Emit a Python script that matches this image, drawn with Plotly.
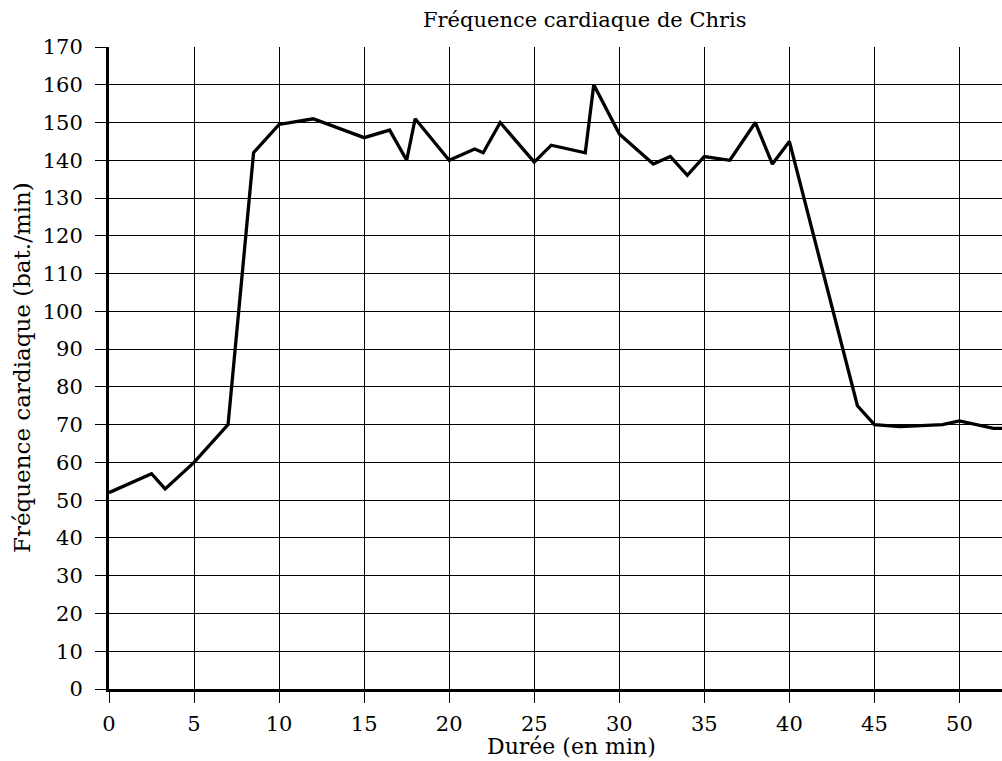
import plotly.graph_objects as go

minutes = [0, 2.5, 3.3, 5, 7, 8.5, 10, 12, 15, 16.5, 17.5, 18, 20, 21.5, 22, 23,
           25, 26, 28, 28.5, 30, 32, 33, 34, 35, 36.5, 38, 39, 40, 44, 45, 46.5,
           49, 50, 52, 52.5]
bpm = [52, 57, 53, 60, 70, 142, 149.5, 151, 146, 148, 140, 151, 140, 143, 142, 150,
       139.5, 144, 142, 160, 147, 139, 141, 136, 141, 140, 150, 139, 145, 75, 70, 69.5,
       70, 71, 69, 69]

x_ticks = list(range(0, 55, 5))
y_ticks = list(range(0, 180, 10))

title_text = "Fréquence cardiaque de Chris"
x_title = "Durée (en min)"
y_title = "Fréquence cardiaque (bat./min)"

FONT = "DejaVu Serif"

fig = go.Figure()
fig.add_trace(go.Scatter(x=minutes, y=bpm, mode="lines",
                         line=dict(color="black", width=3.3), cliponaxis=True,
                         showlegend=False, hoverinfo="skip"))

W, H = 1002, 761
L, R, T, B = 109, 0, 47, 72
pw, ph = W - L - R, H - T - B

def px2paper(px, py):
    return (px - L) / pw, (H - B - py) / ph

tx, ty = px2paper(585, 20)
xx, xy = px2paper(571, 746)
yx, yy = px2paper(22, 368)

fig.update_layout(
    width=W, height=H,
    margin=dict(l=L, r=R, t=T, b=B, autoexpand=False),
    paper_bgcolor="white", plot_bgcolor="white",
    font=dict(family=FONT, size=21, color="black"),
    xaxis=dict(range=[0, 52.5], tickvals=x_ticks, ticktext=[str(v) for v in x_ticks],
               showgrid=True, gridcolor="black", gridwidth=1,
               showline=True, linecolor="black", linewidth=3,
               ticks="outside", ticklen=11, tickwidth=1, tickcolor="black",
               ticklabelstandoff=3, zeroline=False,
               tickfont=dict(family=FONT, size=21, color="black")),
    yaxis=dict(range=[0, 170], tickvals=y_ticks, ticktext=[str(v) for v in y_ticks],
               showgrid=True, gridcolor="black", gridwidth=1,
               showline=True, linecolor="black", linewidth=3,
               ticks="outside", ticklen=11, tickwidth=1, tickcolor="black",
               ticklabelstandoff=8, zeroline=False,
               tickfont=dict(family=FONT, size=21, color="black")),
    annotations=[
        dict(text=title_text, xref="paper", yref="paper", x=tx, y=ty,
             xanchor="center", yanchor="middle", showarrow=False,
             font=dict(family=FONT, size=21, color="black")),
        dict(text=x_title, xref="paper", yref="paper", x=xx, y=xy,
             xanchor="center", yanchor="middle", showarrow=False,
             font=dict(family=FONT, size=22, color="black")),
        dict(text=y_title, xref="paper", yref="paper", x=yx, y=yy, textangle=-90,
             xanchor="center", yanchor="middle", showarrow=False,
             font=dict(family=FONT, size=23, color="black")),
    ],
)

fig.write_html("out.html", config={"displayModeBar": False},
               post_script="document.body.style.margin='0';document.body.style.overflow='hidden';")
